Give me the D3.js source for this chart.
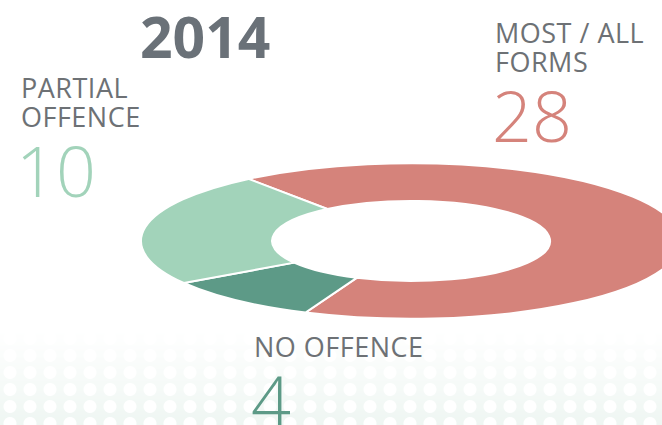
<!DOCTYPE html>
<html>
<head>
<meta charset="utf-8">
<script src="https://cdn.jsdelivr.net/npm/d3@7"></script>
<style>
	html, body {margin:0; padding:0; background:#fff;}
	#chart {position:relative; width:662px; height:425px; overflow:hidden;}
	/* halftone decoration at the bottom */
	#dots {position:absolute; left:0; top:330px; width:662px; height:95px;
		background-color:#e9f3ee;
		background-image:radial-gradient(circle, #fff 0 6px, transparent 7px);
		background-size:20px 17px;
		-webkit-mask-image:linear-gradient(to bottom, transparent 0%, rgba(0,0,0,.5) 70%, rgba(0,0,0,.75) 100%);
		mask-image:linear-gradient(to bottom, transparent 0%, rgba(0,0,0,.5) 70%, rgba(0,0,0,.75) 100%);}
	svg {position:absolute; left:0; top:0;}
	text {font-family:"Open Sans", "DejaVu Sans", sans-serif;}
</style>
</head>
<body>
<div id="chart"><div id="dots"></div></div>
<script>
// datos
var title = "2014";
var categories = ["most", "none", "partial"];
var values = [28, 4, 10];
var labelLines = [["MOST / ALL", "FORMS"], ["NO OFFENCE"], ["PARTIAL", "OFFENCE"]];
var colors = ["#d5837b", "#5d9a87", "#a2d3ba"];

var W = 662, H = 425;
var svg = d3.select("#chart").append("svg").attr("width", W).attr("height", H);
var color = d3.scaleOrdinal().domain(categories).range(colors);

// donut, flattened like a tilted disc
var start = -37 * Math.PI / 180;
var pie = d3.pie().sort(null).startAngle(start).endAngle(start + 2 * Math.PI);
var arc = d3.arc().innerRadius(139).outerRadius(270);
var arcs = pie(values);

var g = svg.append("g").attr("transform", "translate(411,241) scale(1,0.288)");
g.selectAll("path").data(arcs).enter().append("path")
	.attr("d", arc)
	.attr("fill", function(d, i) {return color(categories[i]);})
	.attr("stroke", "#fff")
	.attr("stroke-width", 2)
	.attr("vector-effect", "non-scaling-stroke");

svg.append("text").attr("x", 140).attr("y", 58)
	.attr("font-size", 57).attr("font-weight", 700).attr("fill", "#6a7178")
	.text(title);

// label anchors (x, baseline of the first line)
var anchors = {most: [495, 43], none: [254, 357], partial: [21, 98]};
categories.forEach(function(c, i) {
	var a = anchors[c];
	var t = svg.append("text").attr("x", a[0]).attr("y", a[1])
		.attr("font-size", 27).attr("letter-spacing", 0.5).attr("fill", "#6d7175");
	labelLines[i].forEach(function(line, j) {
		t.append("tspan").attr("x", a[0]).attr("dy", j ? 29 : 0).text(line);
	});
	var last = a[1] + (labelLines[i].length - 1) * 29;
	svg.append("text").attr("x", a[0] - (c == "partial" ? 5 : 3)).attr("y", last + 70)
		.attr("font-size", 70).attr("font-weight", 300).attr("fill", color(c))
		.text(values[i]);
});
</script>
</body>
</html>
